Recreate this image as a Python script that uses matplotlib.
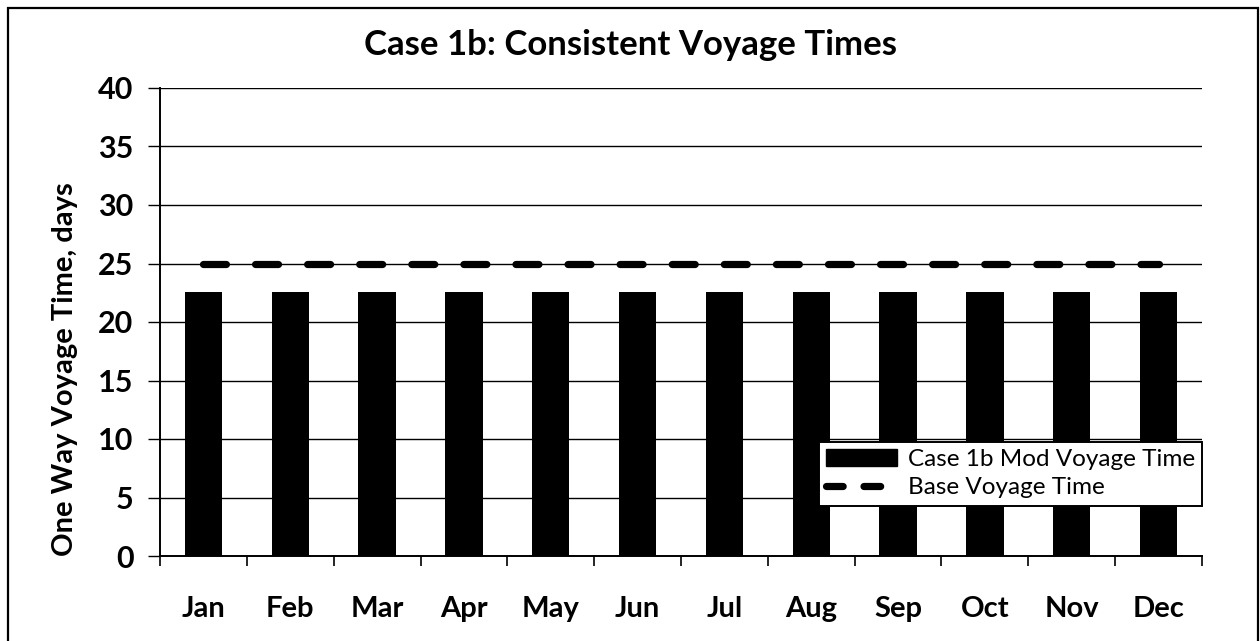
import matplotlib
matplotlib.use("Agg")
import matplotlib.pyplot as plt
from matplotlib.patches import Rectangle, Patch
from matplotlib.lines import Line2D

months = ["Jan", "Feb", "Mar", "Apr", "May", "Jun",
          "Jul", "Aug", "Sep", "Oct", "Nov", "Dec"]
mod_voyage = [22.6, 22.6, 22.6, 22.6, 22.6, 22.6,
              22.6, 22.6, 22.6, 22.6, 22.6, 22.6]
base_voyage = [25, 25, 25, 25, 25, 25, 25, 25, 25, 25, 25, 25]
y_ticks = [0, 5, 10, 15, 20, 25, 30, 35, 40]

title = "Case 1b: Consistent Voyage Times"
y_label = "One Way Voyage Time, days"
mod_label = "Case 1b Mod Voyage Time"
base_label = "Base Voyage Time"

plt.rcParams["font.family"] = ["Lato", "DejaVu Sans"]
plt.rcParams["lines.scale_dashes"] = False

W, H = 1260, 641
fig = plt.figure(figsize=(W / 100, H / 100), dpi=100)
fig.patch.set_facecolor("white")

# outer chart border
fig.patches.append(Rectangle((8 / W, -0.05), 1250 / W, 1.05 - 8 / H,
                             transform=fig.transFigure, fill=False,
                             edgecolor="black", linewidth=1.6))

ax = fig.add_axes([160 / W, 1 - 556 / H, (1202 - 160) / W, (556 - 88) / H])
x = list(range(len(months)))

ax.bar(x, mod_voyage, width=0.43, color="black", zorder=3)
ax.plot(x, base_voyage, color="black", linewidth=5.2,
        dashes=(16.5, 21), dash_capstyle="round", zorder=4)

ax.set_xlim(-0.5, len(months) - 0.5)
ax.set_ylim(0, 40)
ax.set_yticks(y_ticks)
ax.set_yticklabels([str(v) for v in y_ticks], fontsize=22, fontweight="bold")
ax.yaxis.grid(True, color="black", linewidth=1.0, zorder=0)
ax.set_axisbelow(True)

# month labels centred on the bars, tick marks between categories
ax.set_xticks(x)
ax.set_xticklabels(months, fontsize=21, fontweight="bold")
ax.tick_params(axis="x", which="major", length=0, pad=29)
ax.set_xticks([i - 0.5 for i in range(len(months) + 1)], minor=True)
ax.tick_params(axis="x", which="minor", length=7, width=1.2, direction="out")
ax.tick_params(axis="y", length=9, width=1.0, direction="out", pad=10)

for side in ("top", "right"):
    ax.spines[side].set_visible(False)
for side in ("left", "bottom"):
    ax.spines[side].set_linewidth(1.4)

ax.set_ylabel(y_label, fontsize=21, fontweight="bold")
ax.yaxis.set_label_coords(-0.079, 0.40)
fig.text(0.5, 1 - 45 / H, title, ha="center", va="center",
         fontsize=25, fontweight="bold")

handles = [Patch(facecolor="black", edgecolor="black"),
           Line2D([0], [0], color="black", linewidth=5.2,
                  dashes=(12, 15), dash_capstyle="round")]
leg = ax.legend(handles, [mod_label, base_label],
                loc="lower right", bbox_to_anchor=(1.0, 4.3 / 40),
                fontsize=17.5, frameon=True, fancybox=False,
                edgecolor="black", framealpha=1, borderpad=0.3,
                handlelength=2.9, handleheight=0.7, handletextpad=0.45,
                labelspacing=0.3, borderaxespad=0)
leg.get_frame().set_linewidth(1.4)
leg.set_zorder(5)

fig.savefig("out.png", dpi=100)
